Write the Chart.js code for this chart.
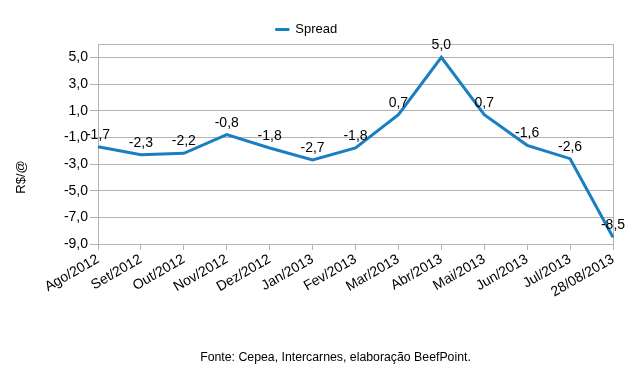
<!DOCTYPE html>
<html>
<head>
<meta charset="utf-8">
<script src="https://cdn.jsdelivr.net/npm/chart.js@4"></script>
<style>
  html, body { margin: 0; padding: 0; background: #fff; }
  #wrap { width: 643px; height: 375px; }
</style>
</head>
<body>
<div id="wrap"><canvas id="spreadChart" width="643" height="375"></canvas></div>
<script>
// Spread (R$/@) por mês
const categories = ['Ago/2012', 'Set/2012', 'Out/2012', 'Nov/2012', 'Dez/2012', 'Jan/2013',
  'Fev/2013', 'Mar/2013', 'Abr/2013', 'Mai/2013', 'Jun/2013', 'Jul/2013', '28/08/2013'];
const spread = [-1.7, -2.3, -2.2, -0.8, -1.8, -2.7, -1.8, 0.7, 5.0, 0.7, -1.6, -2.6, -8.5];
const yTicks = [-9, -7, -5, -3, -1, 1, 3, 5];
const seriesName = 'Spread';
const axisTitle = 'R$/@';
const sourceNote = 'Fonte: Cepea, Intercarnes, elaboração BeefPoint.';

const FONT = '"Liberation Sans", Arial, sans-serif';
const GRID = '#b3b3b3';
const BLUE = '#1a7fc2';
const fmt = (v) => Number(v).toFixed(1).replace('.', ',');

// frame around the plot area, y axis title and source note
const framePlugin = {
  id: 'frame',
  beforeInit(chart) {
    const leg = chart.legend;
    if (leg) {
      const fit = leg.fit;
      leg.fit = function () { fit.call(this); this.height = 44; };
    }
  },
  beforeDatasetsDraw(chart) {
    const { ctx, chartArea: a } = chart;
    ctx.save();
    ctx.strokeStyle = GRID;
    ctx.lineWidth = 1;
    ctx.strokeRect(a.left + 0.5, a.top + 0.5, a.right - a.left, a.bottom - a.top);
    ctx.restore();
  },
  afterDraw(chart) {
    const { ctx, chartArea: a } = chart;
    ctx.save();
    ctx.fillStyle = '#000';
    ctx.textAlign = 'center';
    ctx.textBaseline = 'middle';
    ctx.font = '12.3px ' + FONT;
    ctx.fillText(sourceNote, chart.width / 2 + 14, chart.height - 17);
    ctx.font = '13px ' + FONT;
    ctx.translate(21, a.top + (a.bottom - a.top) * 0.665);
    ctx.rotate(-Math.PI / 2);
    ctx.fillText(axisTitle, 0, 0);
    ctx.restore();
  }
};

// value labels above each point
const valueLabels = {
  id: 'valueLabels',
  afterDatasetsDraw(chart) {
    const { ctx } = chart;
    ctx.save();
    ctx.font = '14px ' + FONT;
    ctx.fillStyle = '#000';
    ctx.textAlign = 'center';
    ctx.textBaseline = 'middle';
    chart.data.datasets.forEach((ds, i) => {
      chart.getDatasetMeta(i).data.forEach((pt, j) => {
        ctx.fillText(fmt(ds.data[j]), pt.x, pt.y - 12);
      });
    });
    ctx.restore();
  }
};

new Chart(document.getElementById('spreadChart'), {
  type: 'line',
  data: {
    labels: categories,
    datasets: [{
      label: seriesName,
      data: spread,
      borderColor: BLUE,
      backgroundColor: BLUE,
      borderWidth: 3,
      pointRadius: 0,
      tension: 0
    }]
  },
  options: {
    responsive: false,
    animation: false,
    layout: { padding: { left: 0, right: 30, top: 0, bottom: 0 } },
    plugins: {
      legend: {
        position: 'top',
        labels: {
          usePointStyle: true,
          pointStyle: 'line',
          boxHeight: 10,
          padding: 23,
          color: '#000',
          font: { family: FONT, size: 13 }
        }
      },
      tooltip: { enabled: false }
    },
    scales: {
      x: {
        offset: false,
        grid: { drawOnChartArea: false, drawTicks: true, tickLength: 6, color: GRID },
        border: { color: GRID },
        ticks: {
          autoSkip: false,
          minRotation: 30,
          maxRotation: 30,
          padding: 1,
          color: '#000',
          font: { family: FONT, size: 14 }
        },
        afterFit: (s) => { s.height = 131; }
      },
      y: {
        min: -9,
        max: 6,
        afterBuildTicks: (s) => { s.ticks = yTicks.map((v) => ({ value: v })); },
        grid: { color: GRID, tickLength: 8 },
        border: { color: GRID },
        ticks: {
          padding: 2,
          color: '#000',
          font: { family: FONT, size: 14 },
          callback: (v) => fmt(v)
        },
        afterFit: (s) => { s.width = 98; }
      }
    }
  },
  plugins: [framePlugin, valueLabels]
});
</script>
</body>
</html>
